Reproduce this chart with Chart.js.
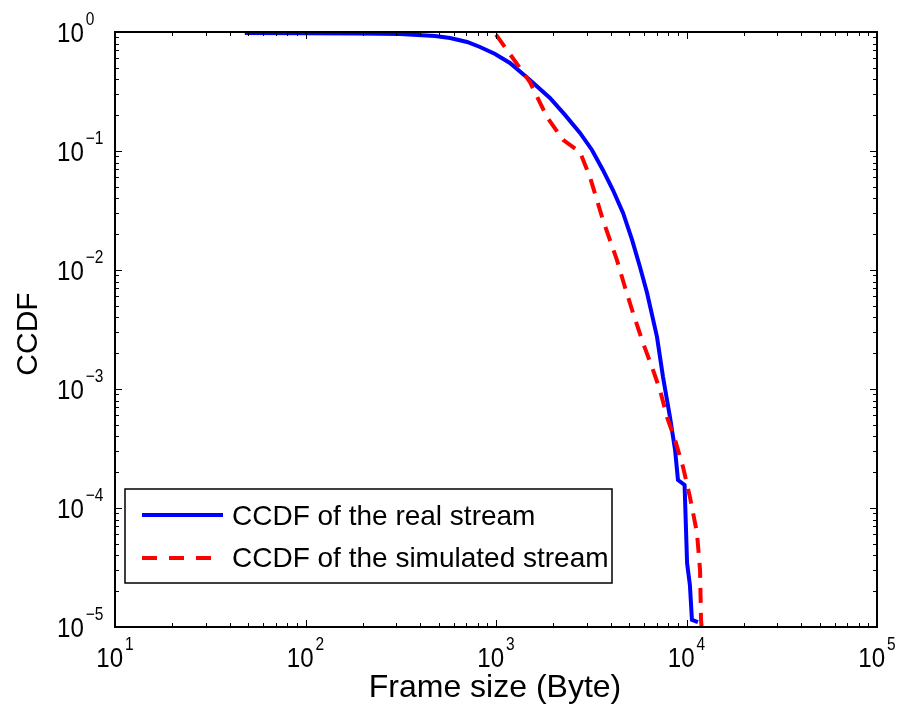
<!DOCTYPE html>
<html>
<head>
<meta charset="utf-8">
<script src="https://cdn.jsdelivr.net/npm/chart.js@4.4.0/dist/chart.umd.min.js"></script>
<style>
body{margin:0;background:#fff;}
#wrap{width:897px;height:711px;}
</style>
</head>
<body>
<div id="wrap"><canvas id="myChart" width="897" height="711"></canvas></div>
<script>
// CCDF of the real stream (frame size in bytes, probability)
const realX = [48, 100, 190, 313, 479, 574, 705, 824, 989, 1183, 1507, 1919, 2302, 2760, 3190, 3645, 4110, 4650, 5180, 5700, 6210, 7000, 7530, 8190, 8710, 9020, 9770, 10070, 10420, 10680, 11480];
const realY = [0.98, 0.978, 0.972, 0.962, 0.926, 0.89, 0.824, 0.748, 0.653, 0.549, 0.395, 0.279, 0.201, 0.142, 0.102, 0.069, 0.047, 0.030, 0.0179, 0.0106, 0.0064, 0.00274, 0.00126, 5.8e-4, 3.07e-4, 1.72e-4, 1.56e-4, 3.45e-5, 2.25e-5, 1.15e-5, 1.1e-5];

// CCDF of the simulated stream
const simX = [1000, 1507, 1853, 2250, 2760, 3113, 3645, 4315, 4750, 5240, 5910, 6590, 7260, 7900, 8710, 9590, 10420, 11350, 11780, 11920, 12000];
const simY = [0.95, 0.38, 0.193, 0.124, 0.098, 0.0605, 0.0263, 0.0121, 0.0072, 0.00435, 0.00244, 0.00153, 9.8e-4, 5.8e-4, 3.73e-4, 2.21e-4, 1.24e-4, 6.2e-5, 3.0e-5, 1.15e-5, 1.0e-5];

// tick labels are 10^exp
const xTickExp = [1, 2, 3, 4, 5];
const yTickExp = [0, -1, -2, -3, -4, -5];

const legendLabels = ['CCDF of the real stream', 'CCDF of the simulated stream'];
const xTitle = 'Frame size (Byte)';
const yTitle = 'CCDF';

function pts(xs, ys) {
  return xs.map((x, i) => ({x: x, y: ys[i]}));
}

const FONT = '"Liberation Sans", Arial, sans-serif';

function expText(e) {
  return e < 0 ? '\u2212' + Math.abs(e) : String(e);
}

// draws "10" with a raised exponent, condensed a bit like the matlab export
function drawPow(ctx, x, y, e, align) {
  const sx = 0.86;
  ctx.font = '28px ' + FONT;
  const bw = ctx.measureText('10').width * sx;
  ctx.font = '18px ' + FONT;
  const ew = ctx.measureText(expText(e)).width * sx;
  let start = x;
  if (align === 'center') start = x - (bw + 2 + ew) / 2;
  ctx.save();
  ctx.translate(start, y);
  ctx.scale(sx, 1);
  ctx.textAlign = 'left';
  ctx.textBaseline = 'alphabetic';
  ctx.font = '28px ' + FONT;
  ctx.fillText('10', 0, 0);
  ctx.font = '18px ' + FONT;
  ctx.fillText(expText(e), (bw + 2) / sx, -17);
  ctx.restore();
}

const matlabAxes = {
  id: 'matlabAxes',
  afterDraw(chart) {
    const ctx = chart.ctx;
    const a = chart.chartArea;
    const xs = chart.scales.x, ys = chart.scales.y;
    ctx.save();
    ctx.fillStyle = '#000';
    ctx.strokeStyle = '#000';

    // tick marks, inward on all four sides
    ctx.lineWidth = 1;
    ctx.beginPath();
    for (let d = xTickExp[0]; d <= xTickExp[xTickExp.length - 1]; d++) {
      for (let m = 1; m <= 9; m++) {
        if (d === xTickExp[xTickExp.length - 1] && m > 1) break;
        const px = Math.round(xs.getPixelForValue(m * Math.pow(10, d))) + 0.5;
        const len = m === 1 ? 7 : 4;
        ctx.moveTo(px, a.bottom); ctx.lineTo(px, a.bottom - len);
        ctx.moveTo(px, a.top); ctx.lineTo(px, a.top + len);
      }
    }
    for (let d = yTickExp[yTickExp.length - 1]; d <= yTickExp[0]; d++) {
      for (let m = 1; m <= 9; m++) {
        if (d === yTickExp[0] && m > 1) break;
        const py = Math.round(ys.getPixelForValue(m * Math.pow(10, d))) + 0.5;
        const len = m === 1 ? 7 : 4;
        ctx.moveTo(a.left, py); ctx.lineTo(a.left + len, py);
        ctx.moveTo(a.right, py); ctx.lineTo(a.right - len, py);
      }
    }
    ctx.stroke();

    // box
    ctx.lineWidth = 2;
    ctx.strokeRect(a.left, a.top, a.right - a.left, a.bottom - a.top);

    // tick labels
    xTickExp.forEach(e => {
      drawPow(ctx, xs.getPixelForValue(Math.pow(10, e)), a.bottom + 40, e, 'center');
    });
    yTickExp.forEach(e => {
      drawPow(ctx, 57, ys.getPixelForValue(Math.pow(10, e)) + 10, e, 'left');
    });

    // axis titles
    ctx.textAlign = 'center';
    ctx.textBaseline = 'alphabetic';
    ctx.font = '32px ' + FONT;
    ctx.fillText(xTitle, 495, 697);
    ctx.save();
    ctx.translate(37, 334);
    ctx.rotate(-Math.PI / 2);
    ctx.font = '30px ' + FONT;
    ctx.fillText(yTitle, 0, 0);
    ctx.restore();

    // legend
    ctx.fillStyle = '#fff';
    ctx.fillRect(125, 489, 487, 94);
    ctx.lineWidth = 1.5;
    ctx.strokeRect(125, 489, 487, 94);
    ctx.lineWidth = 4;
    ctx.strokeStyle = '#0000ff';
    ctx.beginPath(); ctx.moveTo(142, 515); ctx.lineTo(223, 515); ctx.stroke();
    ctx.strokeStyle = '#ff0000';
    ctx.setLineDash([15, 12]);
    ctx.beginPath(); ctx.moveTo(142, 558); ctx.lineTo(212, 558); ctx.stroke();
    ctx.setLineDash([]);
    ctx.fillStyle = '#000';
    ctx.textAlign = 'left';
    ctx.font = '28px ' + FONT;
    ctx.fillText(legendLabels[0], 232, 525);
    ctx.fillText(legendLabels[1], 232, 567);
    ctx.restore();
  }
};

const ctx = document.getElementById('myChart');

new Chart(ctx, {
  type: 'scatter',
  data: {
    datasets: [{
      label: legendLabels[0],
      data: pts(realX, realY),
      showLine: true,
      borderColor: '#0000ff',
      backgroundColor: '#0000ff',
      borderWidth: 4,
      pointRadius: 0,
      tension: 0,
      order: 1,
      clip: 2
    }, {
      label: legendLabels[1],
      data: pts(simX, simY),
      showLine: true,
      borderColor: '#ff0000',
      backgroundColor: '#ff0000',
      borderWidth: 4,
      borderDash: [15, 10],
      pointRadius: 0,
      tension: 0,
      order: 0,
      clip: 2
    }]
  },
  options: {
    responsive: false,
    animation: false,
    devicePixelRatio: 1,
    layout: {padding: {left: 115, top: 32, right: 20, bottom: 84}},
    plugins: {legend: {display: false}, tooltip: {enabled: false}},
    scales: {
      x: {type: 'logarithmic', min: 10, max: 100000, display: false},
      y: {type: 'logarithmic', min: 0.00001, max: 1, display: false}
    }
  },
  plugins: [matlabAxes]
});
</script>
</body>
</html>
